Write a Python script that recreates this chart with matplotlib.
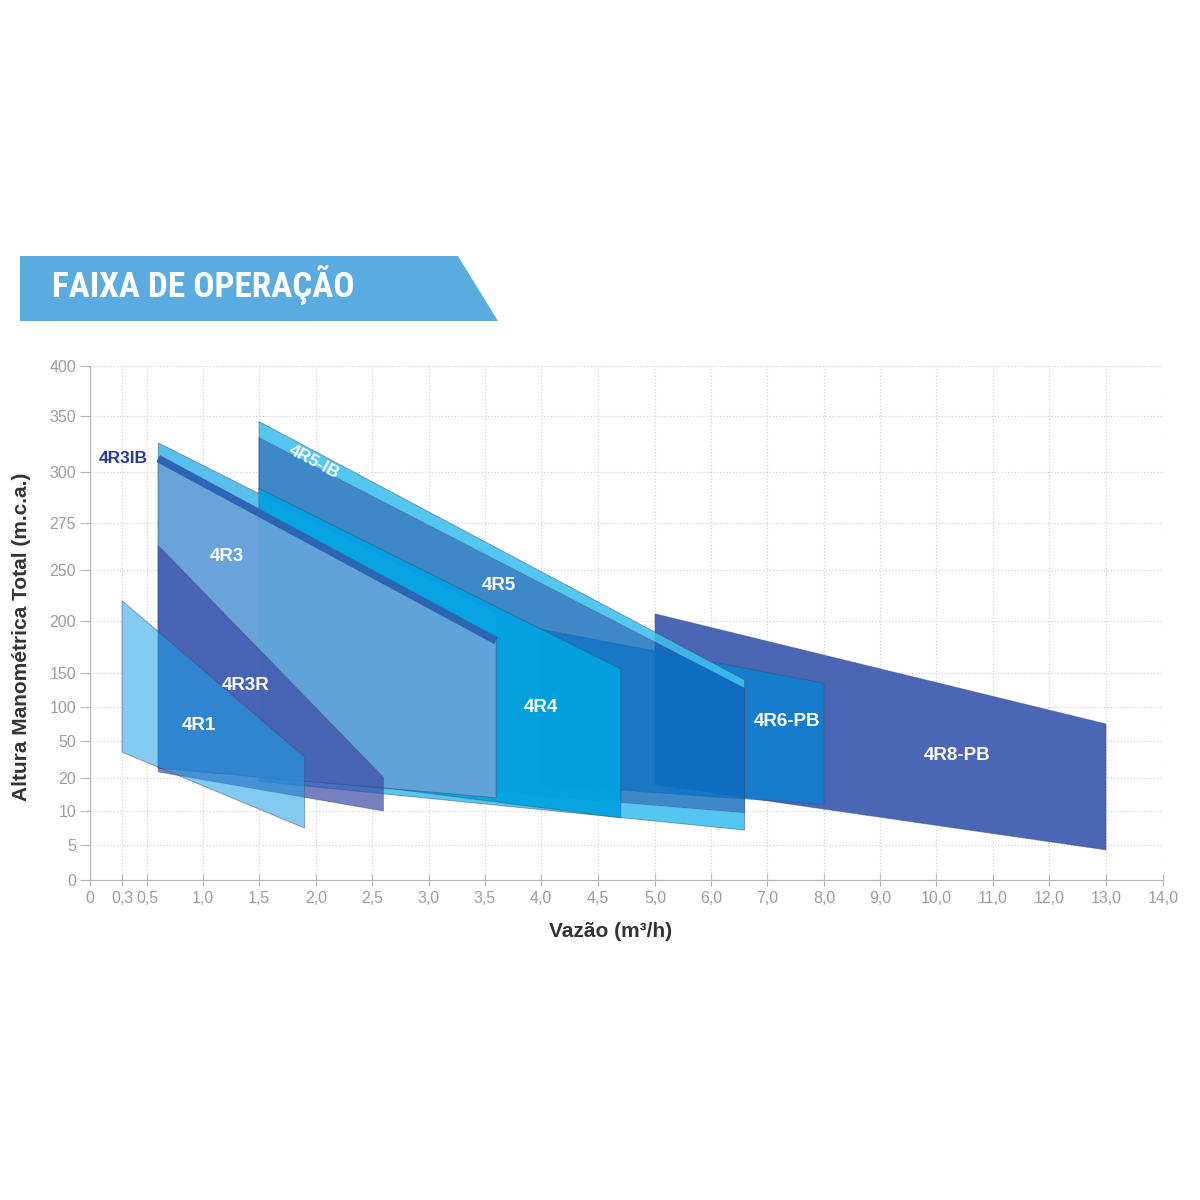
import numpy as np
import matplotlib.pyplot as plt
from matplotlib.colors import to_rgba
from matplotlib.patches import Polygon

# ticks do eixo x (escala nao linear no original)
x_ticks = [0, 0.3, 0.5, 1.0, 1.5, 2.0, 2.5, 3.0, 3.5, 4.0, 4.5, 5.0,
           6.0, 7.0, 8.0, 9.0, 10.0, 11.0, 12.0, 13.0, 14.0]
x_labels = ['0' if v == 0 else f'{v:.1f}'.replace('.', ',') for v in x_ticks]
y_ticks = [0, 5, 10, 20, 50, 100, 150, 200, 250, 275, 300, 350, 400]
y_labels = [str(v) for v in y_ticks]

# espacamento das marcas no desenho original (px)
x_pos = [0, 32, 57, 113, 169, 226, 282, 339, 395, 451, 508, 565,
         621, 677, 734, 790, 846, 903, 959, 1016, 1073]
y_pos = [0, 35, 69, 102, 139, 173, 207, 259, 310, 357, 408, 464, 514]

# faixas de operacao: vazao [ini, fim], altura topo [ini, fim], altura base [ini, fim]
r8_x, r8_top, r8_bot = [5.0, 13.0], [207, 75], [18, 4.3]
r6_x, r6_top, r6_bot = [4.0, 8.0], [192, 135], [18, 12]
r5_x, r5_top, r5_bot = [1.5, 6.6], [331, 128], [24, 9.7]
r5ib_x, r5ib_top, r5ib_bot = [1.5, 6.6], [345, 140], [19, 7.2]
r3ib_x, r3ib_top, r3ib_bot = [0.6, 3.6], [326, 208], [28, 14]
r4_x, r4_top, r4_bot = [1.5, 4.7], [292, 154], [25, 9]
r3_x, r3_top, r3_bot = [0.6, 3.6], [312, 181], [28, 14]
r3r_x, r3r_top, r3r_bot = [0.6, 2.6], [263, 20.5], [25, 10]
r1_x, r1_top, r1_bot = [0.3, 1.9], [220, 37], [41, 7.5]

# rotulos (nome, x, y)
lbl_names = ['4R1', '4R3R', '4R3', '4R4', '4R5', '4R6-PB', '4R8-PB']
lbl_x = [0.96, 1.38, 1.21, 4.0, 3.62, 7.35, 10.37]
lbl_y = [73, 131, 257, 100, 235, 79, 38]

SANS = ['Liberation Sans', 'DejaVu Sans']
NARROW = ['Roboto Condensed', 'Liberation Sans Narrow', 'Roboto', 'DejaVu Sans']
EDGE = (0.25, 0.3, 0.45, 0.5)


def fwd_x(v):
    return np.interp(v, x_ticks, x_pos)


def inv_x(u):
    return np.interp(u, x_pos, x_ticks)


def fwd_y(v):
    return np.interp(v, y_ticks, y_pos)


def inv_y(u):
    return np.interp(u, y_pos, y_ticks)


def band(ax, xs, top, bot, color, alpha, edge=EDGE):
    px = [xs[0], xs[1], xs[1], xs[0]]
    py = [top[0], top[1], bot[1], bot[0]]
    ax.fill(px, py, facecolor=to_rgba(color, alpha), edgecolor=edge, lw=0.7)


fig = plt.figure(figsize=(12, 12), dpi=100)
ax = fig.add_axes([90 / 1200, 320 / 1200, 1073 / 1200, 514 / 1200])
ax.set_xscale('function', functions=(fwd_x, inv_x))
ax.set_yscale('function', functions=(fwd_y, inv_y))
ax.set_xlim(0, 14)
ax.set_ylim(0, 400)

# fundo branco sob as faixas (esconde a grade atras das areas translucidas)
for xs, top, bot in [(r8_x, r8_top, r8_bot), (r6_x, r6_top, r6_bot),
                     (r5ib_x, r5ib_top, r5ib_bot), (r3ib_x, r3ib_top, r3ib_bot),
                     (r4_x, r4_top, r4_bot), (r3r_x, r3r_top, r3r_bot),
                     (r1_x, r1_top, r1_bot)]:
    band(ax, xs, top, bot, 'white', 1.0, edge='none')

band(ax, r8_x, r8_top, r8_bot, '#4a66b4', 1.0)
band(ax, r6_x, r6_top, r6_bot, '#0088d8', 0.7)
band(ax, r5_x, r5_top, r5_bot, '#0d6abc', 0.8)
# 4R5-IB aparece como faixas claras acima e abaixo do 4R5
band(ax, r5ib_x, r5ib_top, r5_top, '#3cc0f0', 0.88, edge='none')
band(ax, r5ib_x, r5_bot, r5ib_bot, '#3cc0f0', 0.88, edge='none')
band(ax, r5ib_x, r5ib_top, r5ib_bot, 'none', 0.0)
band(ax, r3ib_x, r3ib_top, r3ib_bot, '#52bcea', 0.95)
band(ax, r4_x, r4_top, r4_bot, '#00a3e0', 0.92)
band(ax, r3_x, r3_top, r3_bot, '#6aa2d8', 0.92)
ax.plot(r3_x, r3_top, color='#2c66b2', lw=5.5, solid_capstyle='butt')
band(ax, r3r_x, r3r_top, r3r_bot, '#3c4aa6', 0.7)
band(ax, r1_x, r1_top, r1_bot, '#1ea0e6', 0.55)

for name, lx, ly in zip(lbl_names, lbl_x, lbl_y):
    ax.text(lx, ly, name, color='white', fontsize=13.5, fontweight='bold',
            family=SANS, ha='center', va='center')
ax.text(0.31, 312, '4R3IB', color='#2b3990', fontsize=12.5, fontweight='bold',
        family=SANS, ha='center', va='center')
ax.text(1.98, 309, '4R5-IB', color='white', fontsize=12.5, fontweight='bold',
        family=SANS, ha='center', va='center', rotation=-28)

ax.set_xticks(x_ticks, labels=x_labels)
ax.set_yticks(y_ticks, labels=y_labels)
ax.minorticks_off()
ax.grid(True, ls=':', color='#d2d2d2', lw=0.9)
ax.set_axisbelow(True)
for s in ['top', 'right']:
    ax.spines[s].set_visible(False)
for s in ['left', 'bottom']:
    ax.spines[s].set_color('#b5b5b5')
ax.tick_params(axis='x', direction='inout', length=8, color='#b5b5b5',
               labelcolor='#9d9d9d', labelsize=11.5, pad=4)
ax.tick_params(axis='y', direction='out', length=7, color='#b5b5b5',
               labelcolor='#9d9d9d', labelsize=11.5, pad=3)
for t in ax.get_xticklabels() + ax.get_yticklabels():
    t.set_family(SANS)

ax.text(-0.0634, 0.473, 'Altura Manométrica Total (m.c.a.)', transform=ax.transAxes,
        rotation=90, ha='center', va='center', fontsize=15, fontweight='bold',
        color='#333333', family=SANS)
ax.text(0.485, -0.101, 'Vazão (m³/h)', transform=ax.transAxes,
        ha='center', va='center', fontsize=15, fontweight='bold',
        color='#333333', family=SANS)

# faixa do titulo
bx = [20, 458, 498, 20]
by = [256, 256, 321, 321]
fig.patches.append(Polygon(list(zip([v / 1200 for v in bx], [1 - v / 1200 for v in by])),
                           closed=True, transform=fig.transFigure,
                           facecolor='#5aace0', edgecolor='none'))
title = fig.text(52 / 1200, 1 - 284 / 1200, 'FAIXA DE OPERAÇÃO', color='white',
                 fontsize=26, fontweight='bold', family=NARROW,
                 ha='left', va='center')
# ajusta o tamanho para a largura do titulo original (~303 px)
renderer = fig.canvas.get_renderer()
w = title.get_window_extent(renderer).width
title.set_fontsize(26 * 303 / w)

fig.savefig('out.png', dpi=100, facecolor='white')
